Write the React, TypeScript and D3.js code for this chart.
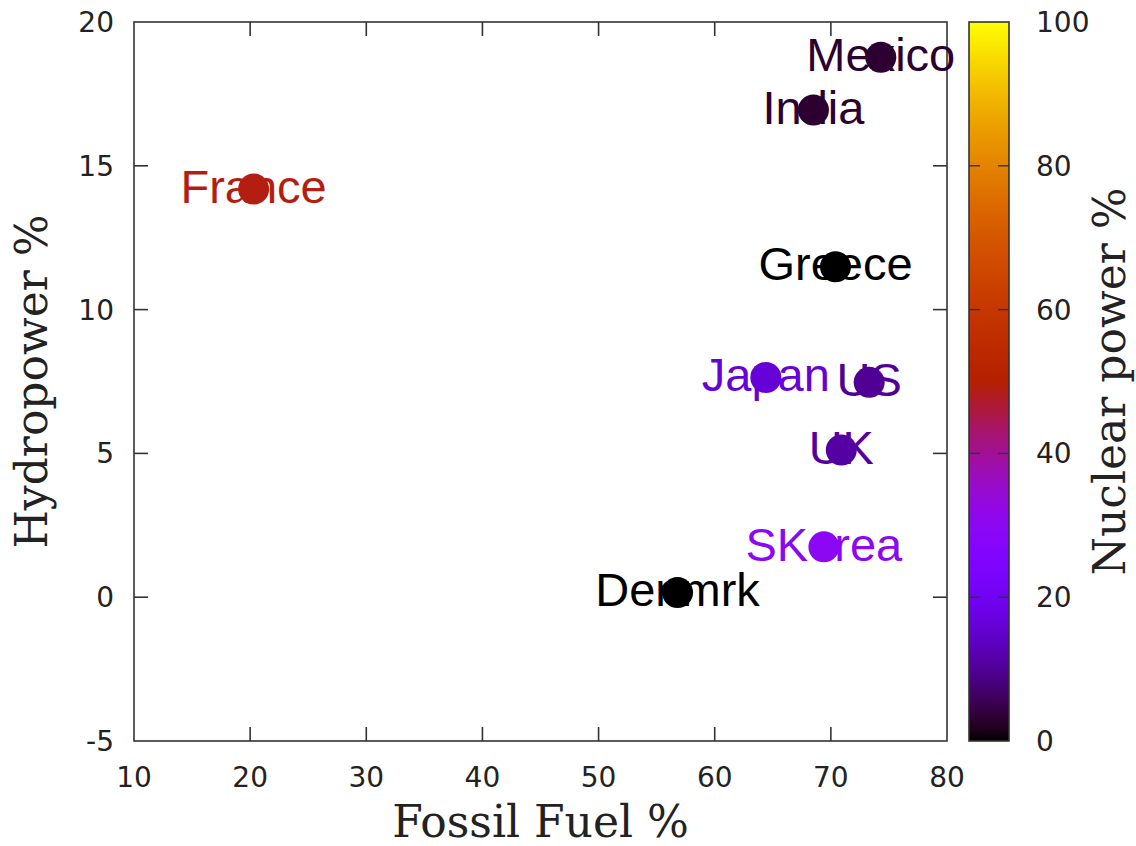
import React from "react";
import * as d3 from "d3";

const countries = ["Mexico", "India", "France", "Greece", "Japan", "US", "UK", "SKorea", "Denmrk"];
const fossil = [74.3, 68.5, 20.3, 70.4, 64.4, 73.3, 70.9, 69.4, 56.8];
const hydro = [18.77, 16.94, 14.19, 11.49, 7.64, 7.47, 5.12, 1.75, 0.16];
const nuclear = [3, 3, 49, 0, 16, 10, 11, 30, 0];

const xTicks = [10, 20, 30, 40, 50, 60, 70, 80];
const yTicks = [-5, 0, 5, 10, 15, 20];
const cTicks = [0, 20, 40, 60, 80, 100];

const W = 1136;
const H = 846;
const left = 134, right = 947, top = 22, bottom = 741;
const cbLeft = 969, cbRight = 1009;

function palette(t: number): string {
  const r = Math.sqrt(Math.max(0, Math.min(1, t)));
  const g = Math.pow(t, 3);
  const b = Math.max(0, Math.sin(2 * Math.PI * t));
  return d3.rgb(r * 255, Math.min(1, g) * 255, Math.min(1, b) * 255).formatHex();
}

export default function App() {
  const x = d3.scaleLinear().domain([10, 80]).range([left, right]);
  const y = d3.scaleLinear().domain([-5, 20]).range([bottom, top]);
  const c = d3.scaleLinear().domain([0, 100]).range([bottom, top]);
  const tickLen = 14;
  const axisColor = "#333";
  const tickFont = "'DejaVu Sans', sans-serif";
  const titleFont = "'DejaVu Serif', serif";
  const stops = d3.range(0, 101, 2);

  return (
    <svg width={W} height={H} style={{ position: "absolute", left: 0, top: 0, background: "#fff" }}>
      <defs>
        <linearGradient id="cb" x1="0" y1="1" x2="0" y2="0">
          {stops.map((s) => (
            <stop key={s} offset={`${s}%`} stopColor={palette(s / 100)} />
          ))}
        </linearGradient>
      </defs>
      <rect x={0} y={0} width={W} height={H} fill="#fff" />
      <rect x={left} y={top} width={right - left} height={bottom - top} fill="none" stroke={axisColor} strokeWidth={1.6} />
      {xTicks.map((t) => (
        <g key={"x" + t}>
          {t !== 10 && t !== 80 && (
            <>
              <line x1={x(t)} x2={x(t)} y1={bottom} y2={bottom - tickLen} stroke={axisColor} strokeWidth={1.6} />
              <line x1={x(t)} x2={x(t)} y1={top} y2={top + tickLen} stroke={axisColor} strokeWidth={1.6} />
            </>
          )}
          <text x={x(t)} y={787} textAnchor="middle" fontFamily={tickFont} fontSize={28} fill="#222">
            {t}
          </text>
        </g>
      ))}
      {yTicks.map((t) => (
        <g key={"y" + t}>
          {t !== -5 && t !== 20 && (
            <>
              <line x1={left} x2={left + tickLen} y1={y(t)} y2={y(t)} stroke={axisColor} strokeWidth={1.6} />
              <line x1={right} x2={right - tickLen} y1={y(t)} y2={y(t)} stroke={axisColor} strokeWidth={1.6} />
            </>
          )}
          <text x={114} y={y(t)} dy="0.36em" textAnchor="end" fontFamily={tickFont} fontSize={28} fill="#222">
            {t}
          </text>
        </g>
      ))}
      {countries.map((name, i) => (
        <text
          key={"l" + name}
          x={x(fossil[i])}
          y={y(hydro[i])}
          dy="0.29em"
          textAnchor="middle"
          fontFamily="'Liberation Sans', Arial, sans-serif"
          fontSize={47}
          fill={palette(nuclear[i] / 100)}
        >
          {name}
        </text>
      ))}
      {countries.map((name, i) => (
        <circle key={"p" + name} cx={x(fossil[i])} cy={y(hydro[i])} r={15.5} fill={palette(nuclear[i] / 100)} />
      ))}
      <rect x={cbLeft} y={top} width={cbRight - cbLeft} height={bottom - top} fill="url(#cb)" stroke={axisColor} strokeWidth={1.6} />
      {cTicks.map((t) => (
        <g key={"c" + t}>
          {t !== 0 && t !== 100 && (
            <>
              <line x1={cbLeft} x2={cbLeft + 11} y1={c(t)} y2={c(t)} stroke={axisColor} strokeWidth={1.4} />
              <line x1={cbRight} x2={cbRight - 11} y1={c(t)} y2={c(t)} stroke={axisColor} strokeWidth={1.4} />
            </>
          )}
          <text x={1036} y={c(t)} dy="0.36em" textAnchor="start" fontFamily={tickFont} fontSize={28} fill="#222">
            {t}
          </text>
        </g>
      ))}
      <text x={(left + right) / 2} y={837} textAnchor="middle" fontFamily={titleFont} fontSize={44} fill="#222">
        Fossil Fuel %
      </text>
      <text
        transform={`translate(47, ${(top + bottom) / 2}) rotate(-90)`}
        textAnchor="middle"
        fontFamily={titleFont}
        fontSize={44}
        fill="#222"
      >
        Hydropower %
      </text>
      <text
        transform={`translate(1125, ${(top + bottom) / 2}) rotate(-90)`}
        textAnchor="middle"
        fontFamily={titleFont}
        fontSize={44}
        fill="#222"
      >
        Nuclear power %
      </text>
    </svg>
  );
}
